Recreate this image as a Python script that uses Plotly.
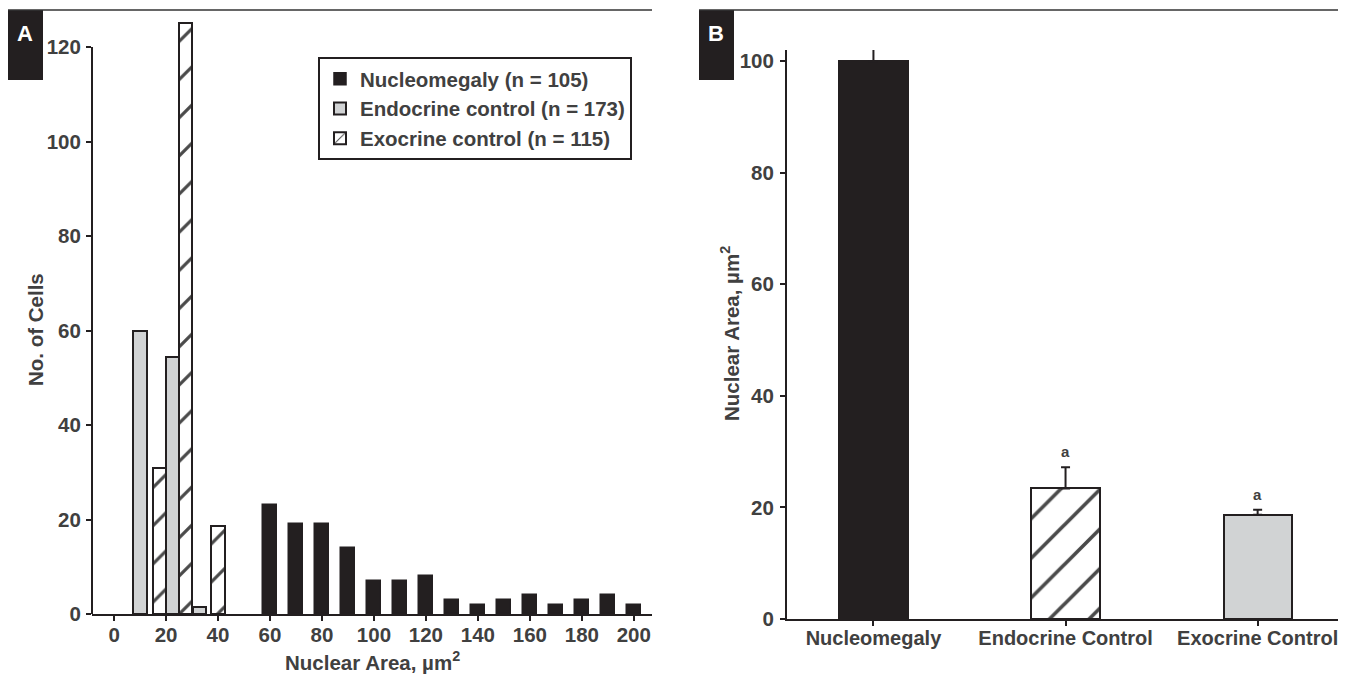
import plotly.graph_objects as go

# ---------------- Panel A data (histogram of nuclear area) ----------------
nucleo_x = [60, 70, 80, 90, 100, 110, 120, 130, 140, 150, 160, 170, 180, 190, 200]
nucleo_counts = [23, 19, 19, 14, 7, 7, 8, 3, 2, 3, 4, 2, 3, 4, 2]
endo_x = [10, 22.5, 33]
endo_counts = [60, 54.5, 1.4]
exo_x = [17.5, 27.5, 40]
exo_counts = [30.8, 125, 18.7]
legend_names = ["Nucleomegaly (n = 105)", "Endocrine control (n = 173)", "Exocrine control (n = 115)"]
x_ticks_a = list(range(0, 201, 20))
y_ticks_a = list(range(0, 121, 20))

# ---------------- Panel B data (mean nuclear area) ----------------
groups_b = ["Nucleomegaly", "Endocrine Control", "Exocrine Control"]
means_b = [100, 23.4, 18.7]
sem_b = [3.9, 3.8, 0.9]
sig_b = ["", "a", "a"]
y_ticks_b = list(range(0, 101, 20))

# styles for panel B bars
fill_b = ["#231f20", "white", "#d1d3d4"]
hatch_b = ["", "/", ""]

# page has an 8px body margin: figure is shrunk so it fills the window
OFF = 8
W, H = 1346 - OFF, 675 - OFF
INK = "#231f20"
TXT = "#404040"
GRAY = "#d1d3d4"
FONT = "Liberation Sans"
FS = 20.5

def px(x):
    return (x - OFF) / W

def py(y):
    return (H - (y - OFF)) / H

fig = go.Figure()

fig.add_trace(go.Bar(
    x=nucleo_x, y=nucleo_counts, width=5.6, name=legend_names[0],
    marker=dict(color=INK, line=dict(color=INK, width=1.5)),
    xaxis="x", yaxis="y",
))
fig.add_trace(go.Bar(
    x=endo_x, y=endo_counts, width=5.1, name=legend_names[1],
    marker=dict(color=GRAY, line=dict(color=INK, width=2)),
    xaxis="x", yaxis="y",
))
fig.add_trace(go.Bar(
    x=exo_x, y=exo_counts, width=5.1, name=legend_names[2],
    marker=dict(color="white", line=dict(color=INK, width=2),
                pattern=dict(shape="/", fgcolor="#4a4a4a", bgcolor="white",
                             size=27, solidity=0.12)),
    xaxis="x", yaxis="y",
))

# Panel B: one trace per group
for i, g in enumerate(groups_b):
    marker = dict(color=fill_b[i], line=dict(color=INK, width=2))
    if hatch_b[i]:
        marker["pattern"] = dict(shape=hatch_b[i], fgcolor="#4a4a4a", bgcolor="white",
                                 size=28, solidity=0.13)
    fig.add_trace(go.Bar(
        x=[i], y=[means_b[i]], width=0.355, showlegend=False, name=g,
        marker=marker,
        error_y=dict(type="data", symmetric=False, array=[sem_b[i]], arrayminus=[0],
                     color=INK, thickness=2, width=4.5),
        xaxis="x2", yaxis="y2",
    ))

tickfont = dict(family=FONT, size=FS, color=TXT, weight="bold")
axis_common = dict(ticks="outside", tickcolor=INK, tickwidth=1.5, showgrid=False,
                   zeroline=False, automargin=False, linecolor=INK, linewidth=2)

fig.update_layout(
    template="none",
    width=W, height=H,
    margin=dict(l=0, r=0, t=0, b=0, pad=0, autoexpand=False),
    paper_bgcolor="white", plot_bgcolor="white",
    barmode="overlay",
    bargap=0,
    font=dict(family=FONT, color=TXT),
    xaxis=dict(domain=[px(92), px(652)], range=[-8.5, 207], anchor="y", showline=True,
               tickvals=x_ticks_a, ticklen=5, ticklabelstandoff=-4, tickfont=tickfont,
               **axis_common),
    yaxis=dict(domain=[py(614), py(14)], range=[0, 127], anchor="x", showline=False,
               tickvals=y_ticks_a, ticklen=5, ticklabelstandoff=1, tickfont=tickfont,
               **axis_common),
    xaxis2=dict(domain=[px(787), 1.0], range=[-0.45, 2.46], anchor="y2", showline=True,
                tickvals=list(range(len(groups_b))), ticktext=groups_b, ticklen=5,
                ticklabelstandoff=-5, tickfont=dict(tickfont, size=20), **axis_common),
    yaxis2=dict(domain=[py(619), py(50)], range=[0, 102], anchor="x2", showline=True,
                tickvals=y_ticks_b, ticklen=5, ticklabelstandoff=2, tickfont=tickfont,
                **axis_common),
    legend=dict(x=px(318), y=py(57), xanchor="left", yanchor="top",
                bordercolor=INK, borderwidth=2, bgcolor="white",
                font=dict(family=FONT, size=FS, color=TXT, weight="bold"),
                tracegroupgap=0),
    showlegend=True,
)

shapes = [
    # panel A y-axis line, ending at the last tick (the tall bar rises above it)
    dict(type="line", xref="x domain", yref="y", x0=0, x1=0, y0=0, y1=y_ticks_a[-1],
         line=dict(color=INK, width=2)),
    dict(type="rect", xref="paper", yref="paper", x0=px(8), x1=px(43), y0=py(80), y1=py(10),
         fillcolor=INK, line=dict(width=0)),
    dict(type="rect", xref="paper", yref="paper", x0=px(699), x1=px(734), y0=py(80), y1=py(10),
         fillcolor=INK, line=dict(width=0)),
    dict(type="line", xref="paper", yref="paper", x0=px(8), x1=px(652), y0=py(10), y1=py(10),
         line=dict(color="#333333", width=1.5)),
    dict(type="line", xref="paper", yref="paper", x0=px(699), x1=1.0, y0=py(10), y1=py(10),
         line=dict(color="#333333", width=1.5)),
]
fig.update_layout(shapes=shapes)

def label(text, x, y, size=FS, color=TXT, angle=0):
    return dict(text=text, x=px(x), y=py(y), xref="paper", yref="paper", showarrow=False,
                xanchor="center", yanchor="middle", textangle=angle,
                font=dict(family=FONT, size=size, color=color))

ann = [
    label("<b>A</b>", 25, 33, size=22, color="white"),
    label("<b>B</b>", 716, 33, size=22, color="white"),
    label("<b>No. of Cells</b>", 35, 330, angle=-90),
    label("<b>Nuclear Area, µm<sup>2</sup></b>", 372, 661),
    label("<b>Nuclear Area, µm<sup>2</sup></b>", 730, 334, angle=-90),
]
for i, s in enumerate(sig_b):
    if s:
        ann.append(dict(text="<b>%s</b>" % s, x=i, y=means_b[i] + sem_b[i], xref="x2", yref="y2",
                        showarrow=False, xanchor="center", yanchor="bottom", yshift=5,
                        font=dict(family=FONT, size=15, color=TXT)))
fig.update_layout(annotations=ann)

fig.write_html("out.html")
